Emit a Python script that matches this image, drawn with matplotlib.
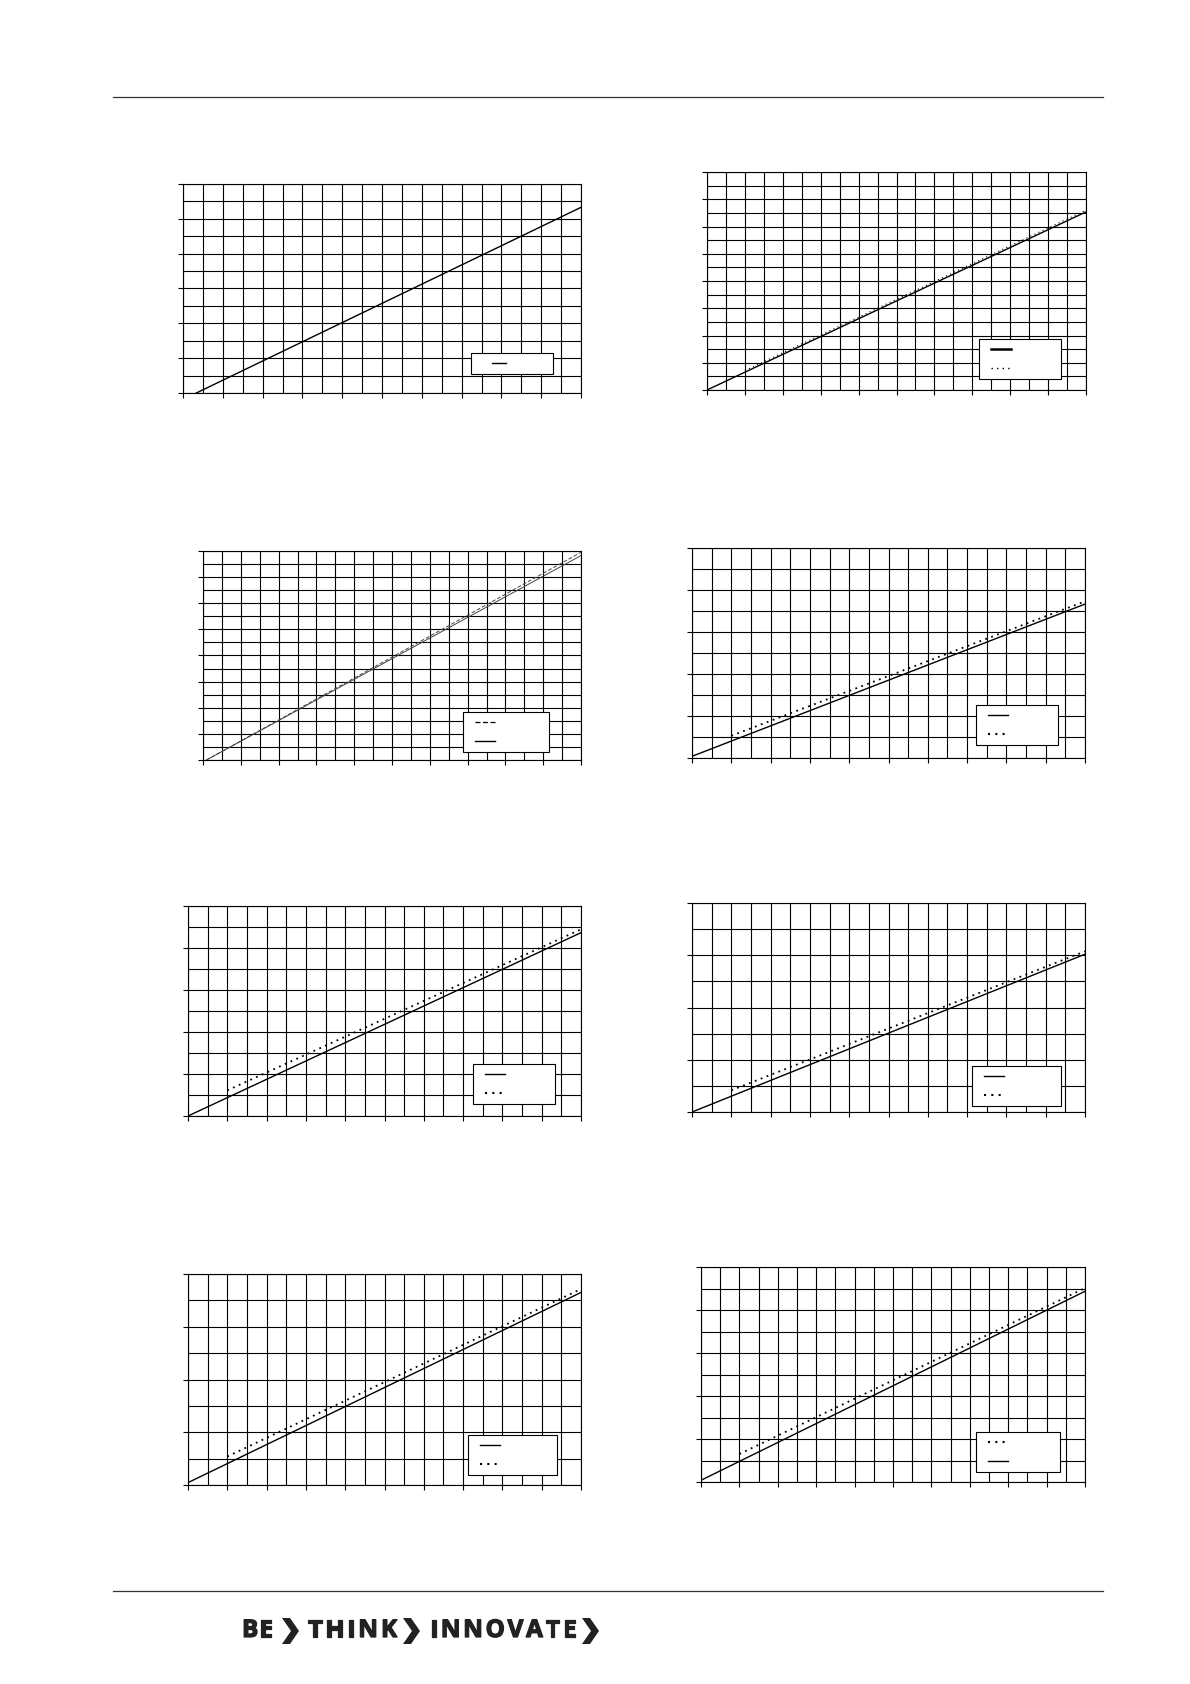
import matplotlib
matplotlib.use('Agg')
import matplotlib.pyplot as plt
import matplotlib.patheffects as pe
from matplotlib.lines import Line2D
from matplotlib.patches import Polygon
from matplotlib.legend_handler import HandlerLine2D

W, H = 1190, 1684

# grid rows of each chart (20 columns everywhere)
rows = [12, 16, 16, 10, 10, 8, 8, 10]

# solid curve (grid units)
solid_x = [[0.67, 20], [0, 20], [0.18, 20], [0, 20], [0, 20], [0, 20], [0, 20], [0, 20]]
solid_y = [[0, 10.66], [0, 13.07], [0, 15.65], [0.08, 7.33], [0, 8.73], [0, 6.04], [0.09, 7.30], [0.08, 8.87]]

# second curve (dotted / dashed), None = no second curve
second_x = [None, [2, 20], [0.18, 20], [2, 20], [2, 20], [2, 20], [2, 20], [2, 20]]
second_y = [None, [1.42, 13.2], [0, 15.9], [1.06, 7.46], [1.22, 8.89], [0.83, 6.15], [1.08, 7.43], [1.30, 9.02]]

# axes boxes in pixels: left, top, right, bottom
boxes = [(183, 184, 581, 393), (707, 172, 1086, 390),
         (203, 551, 581, 760), (692, 548, 1085, 758),
         (188, 906, 581, 1116), (692, 903, 1085, 1112),
         (188, 1274, 581, 1485), (701, 1267, 1085, 1482)]
# legend boxes in pixels: x0, y0, x1, y1
leg_boxes = [(471, 353, 553, 380), (979, 339, 1061, 377),
             (463, 712, 549, 752), (976, 705, 1058, 747),
             (473, 1064, 555, 1105), (972, 1066, 1061, 1107),
             (468, 1435, 557, 1476), (976, 1432, 1060, 1467)]

fig = plt.figure(figsize=(W / 100, H / 100), dpi=100)

# header / footer rules
fig.add_artist(Line2D([113 / W, 1103 / W], [1 - 97 / H, 1 - 97 / H], color='#333333', lw=0.9))
fig.add_artist(Line2D([113 / W, 1103 / W], [1 - 1591 / H, 1 - 1591 / H], color='#333333', lw=0.9))

for i in range(8):
    l, t, r, b = boxes[i]
    ax = fig.add_axes([l / W, 1 - b / H, (r - l) / W, (b - t) / H])
    ax.set_xlim(0, 20)
    ax.set_ylim(0, rows[i])
    ax.set_xticks(range(0, 21, 2))
    ax.set_yticks(range(0, rows[i] + 1, 2))
    ax.set_xticks(range(21), minor=True)
    ax.set_yticks(range(rows[i] + 1), minor=True)
    ax.set_xticklabels([])
    ax.set_yticklabels([])
    ax.grid(True, which='both', color='black', lw=0.8)
    ax.tick_params(which='major', direction='out', length=3.5, width=0.8, color='black')
    ax.tick_params(which='minor', length=0)
    for sp in ax.spines.values():
        sp.set_linewidth(0.8)

    if i == 2:
        col = '#444444'
        lw = 0.7
    else:
        col = 'black'
        lw = 1.0
    ax.plot(solid_x[i], solid_y[i], color=col, lw=lw, zorder=3)
    h_solid = Line2D([], [], color='black', lw=1.8 if i == 1 else 1.0)

    handles = [h_solid]
    if second_x[i] is not None:
        if i == 1:
            ls, lw2 = (0, (1, 3)), 0.8
        elif i == 2:
            ls, lw2 = (0, (4, 2)), 0.7
        else:
            ls, lw2 = (0, (1, 2.5)), 1.3
        ax.plot(second_x[i], second_y[i], color=col, lw=lw2, ls=ls, zorder=3)
        h2 = Line2D([], [], color='black', lw=lw2 + 0.2, ls=ls)
        if i in (2, 7):
            handles = [h2, h_solid]
        else:
            handles = [h_solid, h2]

    # handle offset inside the legend box
    xpad = 1.4 if i == 0 else 0.6
    hlen = 1.26 if i == 0 else 1.8
    x0, y0, x1, y1 = leg_boxes[i]
    leg = ax.legend(handles, [''] * len(handles), loc='upper left',
                    bbox_to_anchor=(x0 / W, 1 - y1 / H, (x1 - x0) / W, (y1 - y0) / H),
                    bbox_transform=fig.transFigure, mode='expand', borderaxespad=0,
                    fontsize=8, handlelength=xpad + hlen,
                    handler_map={Line2D: HandlerLine2D(xpad=xpad)},
                    borderpad=0.5, labelspacing=0.8, fancybox=False,
                    edgecolor='black', framealpha=1)
    leg.get_frame().set_linewidth(0.8)

# footer logo: tracked bold words + chevrons
logo_words = ['BE', 'THINK', 'INNOVATE']
word_x = [242, 308, 430]
word_w = [30, 89, 146]
chev_x = [282, 403, 582]
ink = '#222222'
renderer = fig.canvas.get_renderer()
for w, x, tw in zip(logo_words, word_x, word_w):
    letters = []
    widths = []
    for ch in w:
        t = fig.text(0, 1 - 1631 / H, ch, fontsize=17.5, fontweight='bold',
                     family=['Open Sans', 'DejaVu Sans'], color=ink, va='center', ha='left',
                     path_effects=[pe.withStroke(linewidth=0.9, foreground=ink)])
        letters.append(t)
        widths.append(t.get_window_extent(renderer).width)
    track = max((tw - sum(widths)) / (len(w) - 1), 1.0)
    pos = x
    for t, wd in zip(letters, widths):
        t.set_x(pos / W)
        pos += wd + track

for x in chev_x:
    pts = [(x, 1618), (x + 8, 1618), (x + 17, 1631), (x + 8, 1644), (x, 1644), (x + 9, 1631)]
    fig.add_artist(Polygon([(px / W, 1 - py / H) for px, py in pts], closed=True,
                           transform=fig.transFigure, color=ink, lw=0))

fig.savefig('out.png', dpi=100)
